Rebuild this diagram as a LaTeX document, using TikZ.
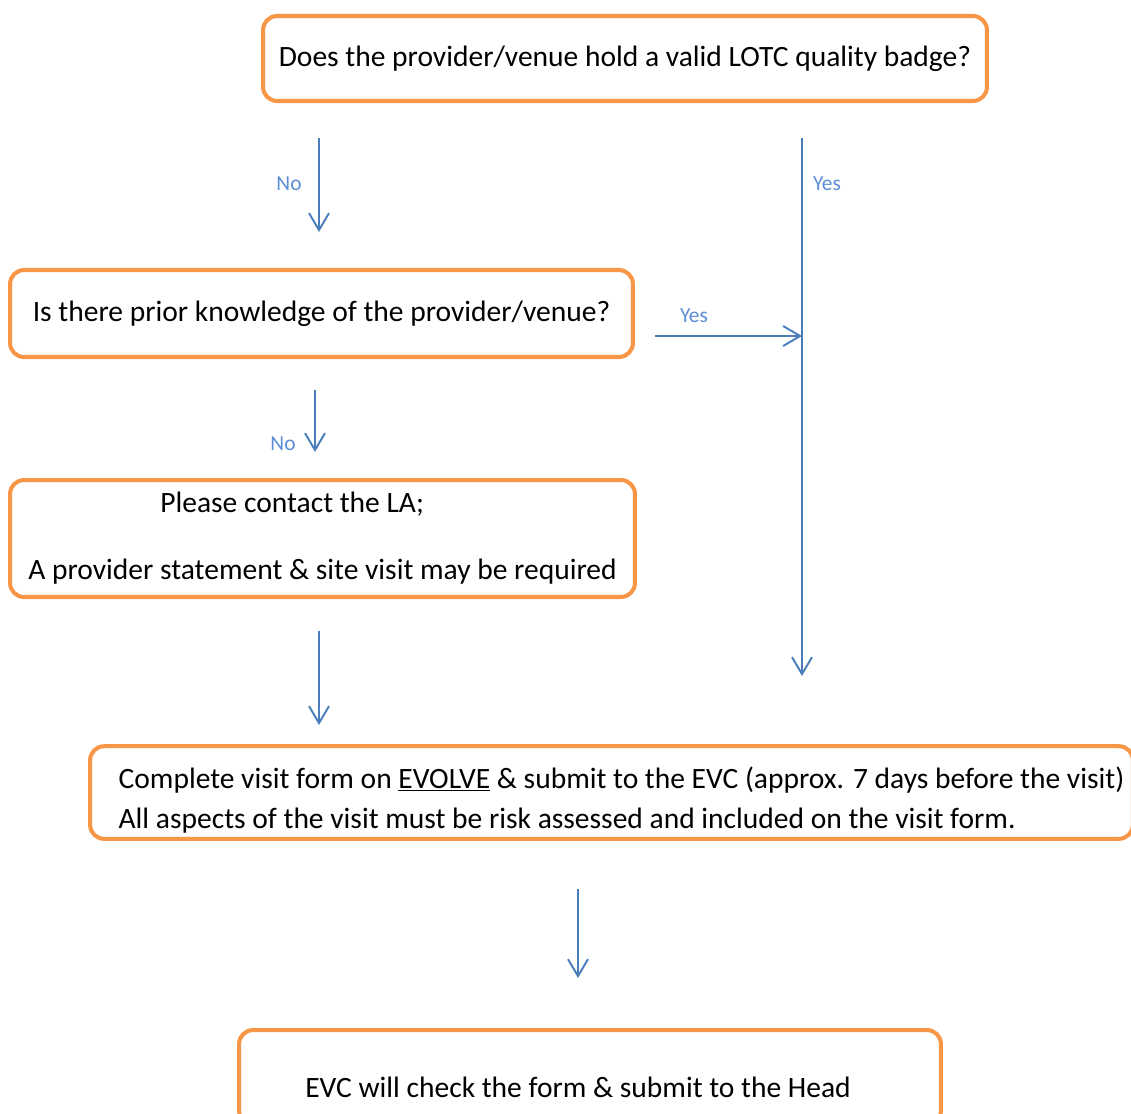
\documentclass[tikz,border=0pt]{standalone}
\usepackage{fontspec}
\setmainfont{Carlito}
\usepackage{xcolor}
\usepackage{tikz}
\usetikzlibrary{arrows.meta, positioning}
\definecolor{boxorange}{HTML}{F79646}
\definecolor{flowblue}{HTML}{4A7EBB}
\definecolor{lblblue}{HTML}{5B8ED6}
\tikzstyle{question} = [rectangle, rounded corners=0.28cm, draw=boxorange, line width=2.3pt, fill=white, text=black, font=\fontsize{16.8}{20}\selectfont]
\tikzstyle{arrow} = [draw=flowblue, line width=1.1pt, -{Straight Barb[length=0.34cm, width=0.4cm, line width=1.1pt]}]
\tikzstyle{lbl} = [text=lblblue, font=\fontsize{12.2}{14}\selectfont, inner sep=0pt]

\begin{document}
\begin{tikzpicture}[x=0.02cm, y=-0.02cm]
    \useasboundingbox (0,0) rectangle (1131,1113);
    % boxes
    \node (badge) [question, minimum width=14.48cm, minimum height=1.7cm] at (625,58.5) {Does the provider/venue hold a valid LOTC quality badge?};
    \node (prior) [question, minimum width=12.46cm, minimum height=1.74cm] at (321.5,313.5) {Is there prior knowledge of the provider/venue?};
    \node (contact) [question, minimum width=12.5cm, minimum height=2.34cm, align=left] at (322.5,538.5) {\hspace*{2.64cm}Please contact the LA;\\[0.64cm]A provider statement \& site visit may be required};
    \node (evolve) [question, minimum width=20.86cm, minimum height=1.82cm, align=left] at (611.5,792.5) {\rule{0pt}{0.72cm}\hspace*{0.4cm}Complete visit form on \underline{EVOLVE} \& submit to the EVC (approx. 7 days before the visit)\\[0.1cm]\hspace*{0.4cm}All aspects of the visit must be risk assessed and included on the visit form.};
    \node (head) [question, minimum width=14.04cm, minimum height=1.9cm, align=center] at (590,1077.5) {\mbox{}\\[0.1cm]EVC will check the form \& submit to the Head\hspace*{0.48cm}};
    % arrow ends
    \coordinate (noA) at (319,138);
    \coordinate (noB) at (319,232);
    \coordinate (yesA) at (802,138);
    \coordinate (yesB) at (802,676);
    \coordinate (knownA) at (655,336);
    \coordinate (knownB) at (802,336);
    \coordinate (unknownA) at (315,390);
    \coordinate (unknownB) at (315,452);
    \coordinate (laA) at (319,631);
    \coordinate (laB) at (319,725);
    \coordinate (formA) at (578,889);
    \coordinate (formB) at (578,978);
    \draw [arrow] (noA) -- (noB);
    \draw [arrow] (yesA) -- (yesB);
    \draw [arrow] (knownA) -- (knownB);
    \draw [arrow] (unknownA) -- (unknownB);
    \draw [arrow] (laA) -- (laB);
    \draw [arrow] (formA) -- (formB);
    % labels
    \node (nobadge) [lbl] at (289,184) {No};
    \node (yesbadge) [lbl] at (827,184) {Yes};
    \node (yesprior) [lbl] at (694,316) {Yes};
    \node (noprior) [lbl] at (283,444) {No};
\end{tikzpicture}
\end{document}
